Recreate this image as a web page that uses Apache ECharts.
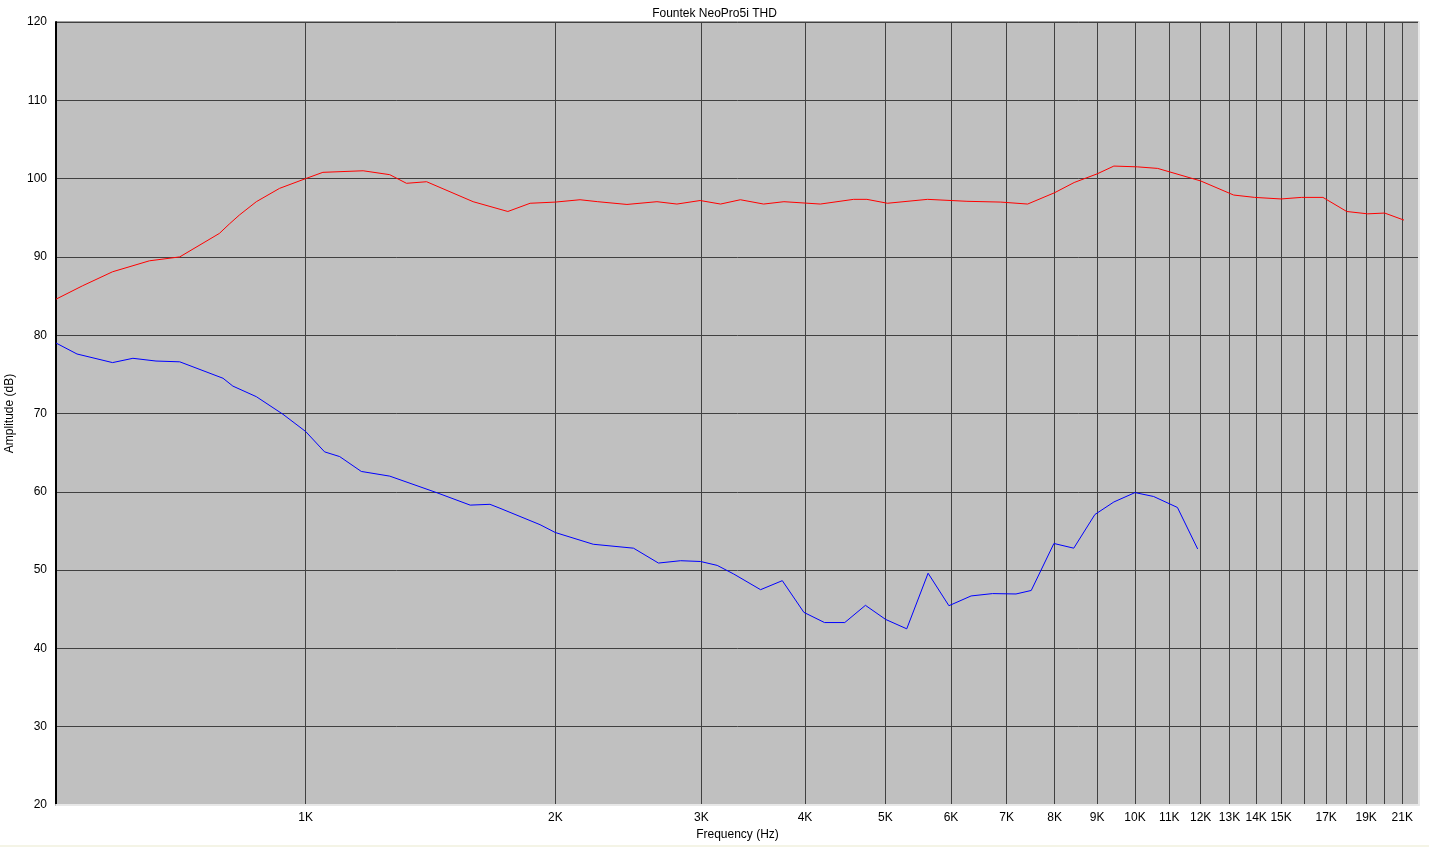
<!DOCTYPE html>
<html>
<head>
<meta charset="utf-8">
<script src="https://cdn.jsdelivr.net/npm/echarts@6/dist/echarts.min.js"></script>
<style>
  html, body { margin: 0; padding: 0; background: #F4F4E6; }
  #chart { width: 1429px; height: 845px; background: #FFFFFF; }
</style>
</head>
<body>
<div id="chart"></div>
<script>
// ---- data (Hz, dB) ----
const redFreq = [500, 538, 585, 648, 705, 787, 809, 832, 872, 930, 1000, 1049, 1173, 1263, 1323, 1399, 1592, 1753, 1865, 2000, 2142, 2250, 2440, 2652, 2803, 2990, 3164, 3343, 3566, 3773, 4174, 4578, 4750, 5029, 5621, 6271, 6889, 7422, 8000, 8446, 9000, 9430, 10066, 10650, 12000, 13150, 13940, 15000, 15870, 16850, 18000, 19080, 20000, 21100];
const redDb   = [84.6, 86.3, 88.1, 89.5, 90.0, 93.0, 94.2, 95.35, 97.05, 98.75, 100.0, 100.8, 101.0, 100.5, 99.4, 99.6, 97.05, 95.8, 96.85, 97.0, 97.3, 97.05, 96.7, 97.05, 96.75, 97.2, 96.75, 97.3, 96.75, 97.05, 96.75, 97.35, 97.35, 96.85, 97.35, 97.1, 97.0, 96.75, 98.2, 99.5, 100.6, 101.6, 101.5, 101.3, 99.7, 97.9, 97.6, 97.4, 97.6, 97.6, 95.8, 95.5, 95.6, 94.7];

const blueFreq = [500, 530, 585, 619, 660, 705, 795, 817, 872, 939, 1000, 1054, 1099, 1167, 1263, 1438, 1579, 1668, 1715, 1917, 2000, 2222, 2485, 2663, 2832, 2993, 3135, 3282, 3536, 3756, 3988, 4223, 4467, 4731, 5004, 5306, 5630, 5965, 6344, 6734, 7186, 7497, 7984, 8436, 8946, 9430, 10000, 10530, 11250, 11900];
const blueDb   = [79.0, 77.6, 76.5, 77.05, 76.7, 76.6, 74.5, 73.5, 72.15, 69.9, 67.7, 65.1, 64.5, 62.6, 62.0, 59.9, 58.3, 58.4, 57.9, 55.8, 54.8, 53.3, 52.8, 50.9, 51.2, 51.1, 50.6, 49.5, 47.5, 48.65, 44.6, 43.3, 43.3, 45.5, 43.7, 42.5, 49.6, 45.45, 46.7, 47.0, 46.95, 47.4, 53.4, 52.8, 57.1, 58.7, 59.9, 59.4, 58.0, 52.7];

// grid lines every 1 kHz, labels (kHz)
const gridKHz  = [1, 2, 3, 4, 5, 6, 7, 8, 9, 10, 11, 12, 13, 14, 15, 16, 17, 18, 19, 20, 21];
const labelKHz = [1, 2, 3, 4, 5, 6, 7, 8, 9, 10, 11, 12, 13, 14, 15, 17, 19, 21];
const freqMin = 500, freqMax = 22000;

const lg = v => Math.log10(v);
const toPairs = (fs, ds) => fs.map((f, i) => [lg(f), ds[i]]);

const FONT = 'Liberation Sans';
const chart = echarts.init(document.getElementById('chart'), null, { renderer: 'canvas' });
chart.setOption({
  animation: false,
  backgroundColor: '#FFFFFF',
  textStyle: { fontFamily: FONT },
  title: {
    text: 'Fountek NeoPro5i THD',
    left: 'center', top: 3,
    textStyle: { fontSize: 12, fontWeight: 'normal', color: '#000', fontFamily: FONT }
  },
  grid: {
    left: 56, right: 10, top: 22, bottom: 40,
    outerBoundsMode: 'none', containLabel: false,
    show: true, backgroundColor: '#C0C0C0', borderColor: '#404040', borderWidth: 1
  },
  xAxis: {
    type: 'value',
    min: lg(freqMin), max: lg(freqMax),
    name: 'Frequency (Hz)', nameLocation: 'middle', nameGap: 24,
    nameTextStyle: { fontSize: 12, color: '#000', fontFamily: FONT },
    axisLine: { show: true, lineStyle: { color: '#E8E8E8', width: 2 } },
    axisTick: { show: false, customValues: gridKHz.map(k => lg(k * 1000)) },
    axisLabel: {
      customValues: labelKHz.map(k => lg(k * 1000)),
      formatter: v => Math.round(Math.pow(10, v) / 1000) + 'K',
      fontSize: 12, color: '#000', margin: 7, fontFamily: FONT
    },
    splitLine: { show: true, lineStyle: { color: '#404040', width: 1 } }
  },
  yAxis: [{
    type: 'value', min: 20, max: 120, interval: 10,
    name: 'Amplitude (dB)', nameLocation: 'middle', nameGap: 38,
    nameTextStyle: { fontSize: 12, color: '#000', fontFamily: FONT },
    axisLine: { show: true, lineStyle: { color: '#000000', width: 2 } },
    axisTick: { show: false },
    axisLabel: { fontSize: 12, color: '#000', margin: 9, fontFamily: FONT },
    splitLine: { show: true, lineStyle: { color: '#404040', width: 1 } }
  }, {
    type: 'value', min: 20, max: 120, interval: 10, position: 'right',
    axisLine: { show: true, lineStyle: { color: '#E8E8E8', width: 2 } },
    axisTick: { show: false }, axisLabel: { show: false }, splitLine: { show: false }
  }],
  series: [{
    type: 'line', name: 'Fundamental', data: toPairs(redFreq, redDb),
    showSymbol: false, symbol: 'none', smooth: false,
    lineStyle: { color: '#FF0000', width: 1 }, itemStyle: { color: '#FF0000' }
  }, {
    type: 'line', name: 'THD', data: toPairs(blueFreq, blueDb),
    showSymbol: false, symbol: 'none', smooth: false,
    lineStyle: { color: '#0000FF', width: 1 }, itemStyle: { color: '#0000FF' }
  }]
});
</script>
</body>
</html>
